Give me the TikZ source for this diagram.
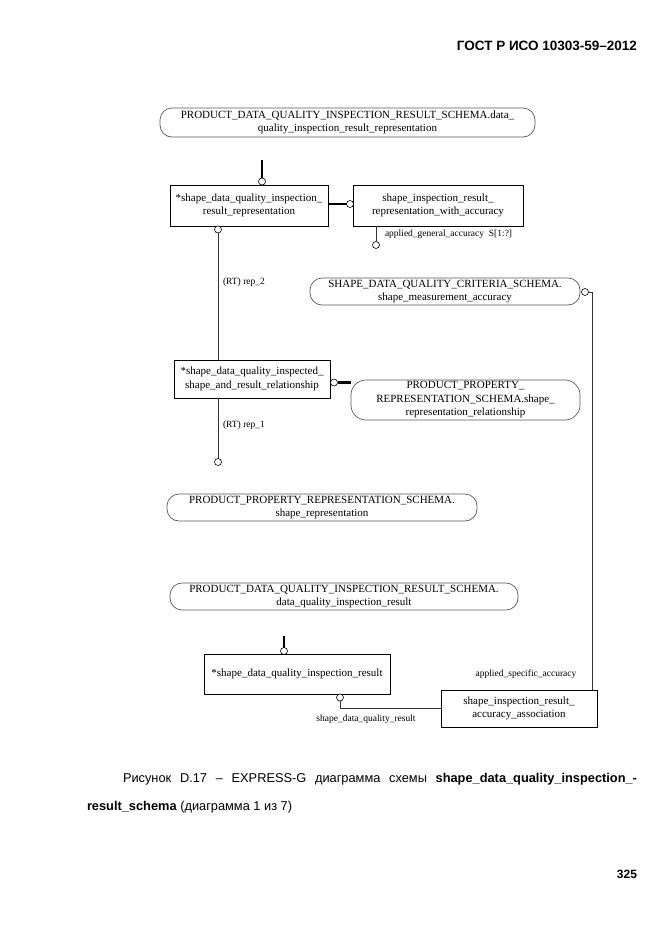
\documentclass[tikz,border=0pt]{standalone}
\usepackage{fontspec}
\setmainfont{Liberation Serif}
\newfontfamily\sansf{Liberation Sans}
\begin{document}
\begin{tikzpicture}[x=1pt,y=-1pt,
  every node/.style={inner sep=0pt, outer sep=0pt},
  txt/.style={font=\fontsize{11}{13.5}\selectfont, align=center},
  ebox/.style={txt, draw=black, line width=0.7pt, rectangle},
  oval/.style={txt, draw=black!65, line width=0.7pt, rounded corners=12pt},
  circ/.style={circle, draw=black, line width=0.6pt, fill=white, minimum size=7pt},
  lnk/.style={draw=black!80, line width=0.6pt},
  thk/.style={draw=black, line width=2.4pt},
  lbl/.style={font=\fontsize{9.5}{11}\selectfont},
  captxt/.style={font=\sansf\fontsize{12.8}{15}\selectfont, anchor=base west}
]
\useasboundingbox (0,0) rectangle (661,935);

% header
\node[font=\sansf\bfseries\fontsize{13.5}{15}\selectfont, anchor=base east] (hdr) at (637,50) {ГОСТ Р ИСО 10303-59–2012};

% nodes
\node[oval, minimum width=375, minimum height=29] (o1) at (347.5,122.5) {PRODUCT\_DATA\_QUALITY\_INSPECTION\_RESULT\_SCHEMA.data\_\\quality\_inspection\_result\_representation};
\node[ebox, minimum width=158, minimum height=41] (b1) at (249,205.5) {*shape\_data\_quality\_inspection\_\\result\_representation};
\node[ebox, minimum width=170, minimum height=41] (b2) at (438,205.5) {shape\_inspection\_result\_\\representation\_with\_accuracy};
\node[oval, minimum width=270, minimum height=27] (o2) at (445,291.5) {SHAPE\_DATA\_QUALITY\_CRITERIA\_SCHEMA.\\shape\_measurement\_accuracy};
\node[ebox, minimum width=156, minimum height=38] (b3) at (252,379) {*shape\_data\_quality\_inspected\_\\shape\_and\_result\_relationship};
\node[oval, minimum width=229, minimum height=40, rounded corners=15pt] (o3) at (465.5,400) {PRODUCT\_PROPERTY\_\\REPRESENTATION\_SCHEMA.shape\_\\representation\_relationship};
\node[oval, minimum width=310, minimum height=27] (o4) at (322,507.5) {PRODUCT\_PROPERTY\_REPRESENTATION\_SCHEMA.\\shape\_representation};
\node[oval, minimum width=348, minimum height=27] (o5) at (344,596.5) {PRODUCT\_DATA\_QUALITY\_INSPECTION\_RESULT\_SCHEMA.\\data\_quality\_inspection\_result};
\node[ebox, minimum width=186, minimum height=40] (b4) at (297,674) {*shape\_data\_quality\_inspection\_result};
\node[ebox, minimum width=156, minimum height=37] (b5) at (519,708.5) {shape\_inspection\_result\_\\accuracy\_association};

% circles
\node[circ] (c1) at (262,181.5) {};
\node[circ] (c2) at (350,204) {};
\node[circ] (c3) at (376,245) {};
\node[circ] (c4) at (218,229.5) {};
\node[circ] (c5) at (585,292) {};
\node[circ] (c6) at (334,382.5) {};
\node[circ] (c7) at (218,462) {};
\node[circ] (c8) at (284,651) {};
\node[circ] (c9) at (340,697.5) {};

\coordinate (t1) at (262,160);
\coordinate (t8) at (284,636);
\coordinate (rx) at (592,292);

% connectors
\draw[thk] (t1) -- (c1.north);
\draw[thk] (b1.east |- c2) -- (c2.west);
\draw[lnk] (c3.north) -- (c3.north |- b2.south);
\draw[lnk] (c4.south) -- (c4.south |- b3.north);
\draw[lnk] (c5.east) -- (rx) -- (rx |- b5.north);
\draw[thk] (c6.east) -- (c6.east -| o3.west);
\draw[lnk] (c7.north |- b3.south) -- (c7.north);
\draw[thk] (t8) -- (c8.north);
\draw[lnk] (c9.south) |- (b5.west);

% labels
\node[lbl, anchor=west] (l1) at (385,234) {applied\_general\_accuracy\ \ S[1:?]};
\node[lbl, anchor=west] (l2) at (223,282) {(RT) rep\_2};
\node[lbl, anchor=west] (l3) at (223,425) {(RT) rep\_1};
\node[lbl] (l4) at (366,719) {shape\_data\_quality\_result};
\node[lbl] (l5) at (526,674) {applied\_specific\_accuracy};

% caption
\node[captxt] (cap1) at (123,782) {\makebox[514pt][s]{Рисунок D.17 – EXPRESS-G диаграмма схемы \textbf{shape\_data\_quality\_inspection\_-}}};
\node[captxt] (cap2) at (87,810) {\textbf{result\_schema} (диаграмма 1 из 7)};

\node[font=\sansf\bfseries\fontsize{12}{14}\selectfont, anchor=base east] (pg) at (637,878) {325};
\end{tikzpicture}
\end{document}
